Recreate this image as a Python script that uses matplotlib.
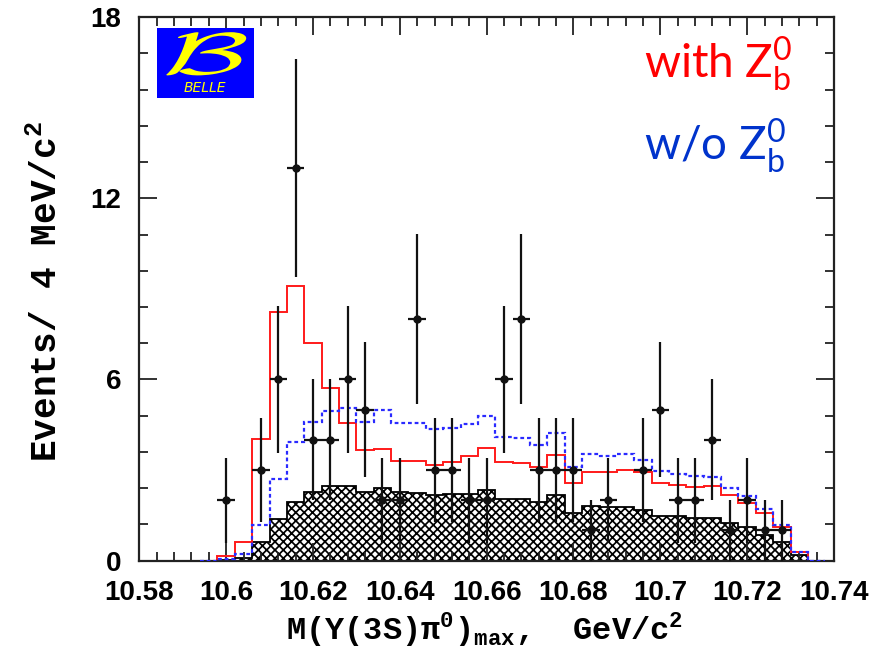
import matplotlib
matplotlib.use("Agg")
import matplotlib.pyplot as plt
import numpy as np
from matplotlib.ticker import MultipleLocator
from matplotlib.textpath import TextPath
from matplotlib.patches import PathPatch
from matplotlib.font_manager import FontProperties
from matplotlib.transforms import Affine2D

# 4 MeV bins of M(Y(3S) pi0)_max, first edge 10.594 GeV
bin_edges = np.round(np.arange(10.594, 10.7381, 0.004), 3)

# observed events per bin
counts = [0, 2, 0, 3, 6, 13, 4, 4, 6, 5, 2, 2, 8, 3, 3, 2, 2, 6,
          8, 3, 3, 3, 1, 2, 0, 3, 5, 2, 2, 4, 1, 2, 1, 1, 0, 0]

# fit with the Zb0 contribution
with_zb = [0, 0.15, 0.63, 4.02, 8.25, 9.08, 7.2, 5.73, 4.57, 3.66, 3.71, 3.31,
           3.31, 3.17, 3.26, 3.47, 3.72, 3.28, 3.22, 3.11, 3.5, 2.58, 2.95, 2.93,
           3.0, 2.93, 2.58, 2.5, 2.45, 2.47, 2.17, 1.92, 1.59, 1.12, 0.3, 0]

# fit without the Zb0 contribution
without_zb = [0, 0.05, 0.22, 1.18, 2.69, 3.92, 4.58, 4.97, 5.05, 4.6, 5.0, 4.55,
              4.55, 4.35, 4.38, 4.52, 4.79, 4.1, 4.05, 3.83, 4.24, 3.11, 3.52, 3.45,
              3.53, 3.33, 2.97, 2.87, 2.81, 2.76, 2.42, 2.14, 1.71, 1.18, 0.3, 0]

# background estimate
background = [0, 0.03, 0.1, 0.63, 1.37, 1.93, 2.28, 2.47, 2.47, 2.26, 2.42, 2.26,
              2.25, 2.17, 2.2, 2.22, 2.34, 2.04, 2.04, 1.95, 2.17, 1.57, 1.81, 1.79,
              1.79, 1.68, 1.48, 1.48, 1.4, 1.4, 1.24, 1.1, 0.85, 0.63, 0.19, 0]

x_ticks = [10.58, 10.6, 10.62, 10.64, 10.66, 10.68, 10.7, 10.72, 10.74]
x_tick_labels = ["10.58", "10.6", "10.62", "10.64", "10.66", "10.68", "10.7", "10.72", "10.74"]
y_ticks = [0, 6, 12, 18]

plt.rcParams["hatch.linewidth"] = 1.25

fig = plt.figure(figsize=(8.9, 6.54), dpi=100)
W, H = 890.0, 654.0
ax = fig.add_axes([139.3 / W, 1 - 560.6 / H, (834 - 139.3) / W, (560.6 - 17.2) / H])

ax.stairs(background, bin_edges, fill=True, facecolor="white", edgecolor="black",
          hatch="xxxx", linewidth=1.3, zorder=1)
ax.stairs(with_zb, bin_edges, color="#ff1a1a", linewidth=1.4, zorder=2)
ax.stairs(without_zb, bin_edges, color="#2a2aff", linewidth=1.6,
          linestyle=(0, (1.7, 1.3)), zorder=3)

centers = 0.5 * (bin_edges[:-1] + bin_edges[1:])
n = np.array(counts, dtype=float)
nz = n > 0
ax.errorbar(centers[nz], n[nz], xerr=0.002, yerr=np.sqrt(n[nz]), fmt="o",
            color="#111111", markersize=5, elinewidth=1.6, capsize=0, zorder=4)

ax.set_xlim(10.58, 10.74)
ax.set_ylim(0, 18)
ax.set_xticks(x_ticks)
ax.set_xticklabels(x_tick_labels)
ax.set_yticks(y_ticks)
ax.xaxis.set_minor_locator(MultipleLocator(0.004))
ax.yaxis.set_minor_locator(MultipleLocator(1.2))
ax.tick_params(which="both", direction="in", top=True, right=True, width=1.3,
               colors="#222222")
ax.tick_params(which="major", length=13)
ax.tick_params(which="minor", length=6.5)
ax.tick_params(axis="x", which="major", pad=14)
ax.tick_params(axis="y", which="major", pad=13)
for lab in ax.get_xticklabels() + ax.get_yticklabels():
    lab.set_fontfamily("Liberation Sans")
    lab.set_fontweight("bold")
    lab.set_fontsize(20)
    lab.set_color("black")
for sp in ax.spines.values():
    sp.set_linewidth(1.6)
    sp.set_color("#222222")

fig.text(47 / W, 1 - 291 / H, "Events/ 4 MeV/c$^\\mathregular{2}$", rotation=90,
         ha="center", va="center", fontsize=26, family="Liberation Mono",
         fontweight="bold")
fig.text(485 / W, 1 - 640 / H,
         "M(Y(3S)\u03c0$^\\mathregular{0}$)$_\\mathregular{max}$,  GeV/c$^\\mathregular{2}$",
         ha="center", va="baseline", fontsize=23, family="Liberation Mono",
         fontweight="bold")

fig.text(644 / W, 1 - 78 / H, "with Z$_\\mathregular{b}^\\mathregular{0}$",
         color="#ff0000", fontsize=33, family="Lato")
fig.text(644 / W, 1 - 160 / H, "w/o Z$_\\mathregular{b}^\\mathregular{0}$",
         color="#0033cc", fontsize=33, family="Lato")

# experiment logo: a script B stretched to fill the upper part of a blue box
logo = fig.add_axes([156.7 / W, 1 - 97.7 / H, (254 - 156.7) / W, (97.7 - 28) / H])
logo.set_facecolor("#0000ff")
logo.set_xlim(0, 1)
logo.set_ylim(0, 1)
logo.set_xticks([])
logo.set_yticks([])
for sp in logo.spines.values():
    sp.set_visible(False)
fp = FontProperties()
fp.set_math_fontfamily("cm")
glyph = TextPath((0, 0), r"$\mathcal{B}$", size=1, prop=fp)
v = glyph.vertices
x0, y0 = v.min(axis=0)
x1, y1 = v.max(axis=0)
fit = (Affine2D().translate(-x0, -y0)
       .scale(0.86 / (x1 - x0), 0.62 / (y1 - y0))
       .translate(0.06, 0.32))
logo.add_patch(PathPatch(fit.transform_path(glyph), facecolor="#ffff00",
                         edgecolor="none"))
logo.text(0.5, 0.14, "BELLE", style="italic", fontsize=10, color="#ffff00",
          ha="center", va="center", family="DejaVu Sans", fontweight="light")

fig.savefig("out.png", dpi=100)
